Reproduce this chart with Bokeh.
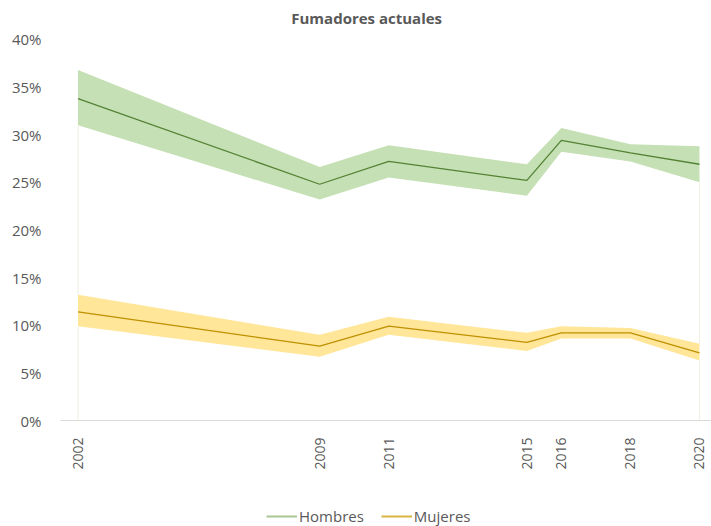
from bokeh.plotting import figure
from bokeh.layouts import column
from bokeh.models import FixedTicker, Legend, LegendItem, Label, Range1d
from bokeh.embed import file_html
from bokeh.resources import INLINE

title_text = "Fumadores actuales"
years = [2002, 2009, 2011, 2015, 2016, 2018, 2020]
hombres = [33.8, 24.8, 27.2, 25.2, 29.4, 28.1, 26.9]
hombres_lo = [31.0, 23.2, 25.5, 23.6, 28.2, 27.2, 25.0]
hombres_hi = [36.8, 26.6, 28.9, 26.9, 30.7, 29.0, 28.8]
mujeres = [11.4, 7.8, 9.9, 8.2, 9.2, 9.2, 7.1]
mujeres_lo = [9.9, 6.7, 9.0, 7.3, 8.6, 8.6, 6.3]
mujeres_hi = [13.2, 9.0, 10.9, 9.2, 9.9, 9.7, 8.05]
y_ticks = [0, 5, 10, 15, 20, 25, 30, 35, 40]
y_tick_labels = ["0%", "5%", "10%", "15%", "20%", "25%", "30%", "35%", "40%"]

FONT = "Open Sans"
TXT = "#595959"

p = figure(width=711, height=486, output_backend="svg", toolbar_location=None,
           x_range=Range1d(2001.493, 2020.348), y_range=Range1d(0, 44.09),
           min_border_left=60, min_border_right=0, min_border_top=0,
           min_border_bottom=66)
p.outline_line_color = None
p.xgrid.visible = False
p.ygrid.visible = False

# bands
p.varea(x=years, y1=hombres_lo, y2=hombres_hi, fill_color="#C5E0B4")
p.varea(x=years, y1=mujeres_lo, y2=mujeres_hi, fill_color="#FFE699")
# faint edge lines
p.segment(x0=[years[0], years[-1]], y0=[0, 0], x1=[years[0], years[-1]],
          y1=[mujeres_lo[0], mujeres_lo[-1]],
          line_color="#EFEFE2", line_width=1)
p.segment(x0=[years[0], years[-1]], y0=[mujeres_hi[0], mujeres_hi[-1]],
          x1=[years[0], years[-1]], y1=[hombres_lo[0], hombres_lo[-1]],
          line_color="#EFEFE2", line_width=1)
# lines
p.line(years, hombres, line_color="#548235", line_width=1.3)
p.line(years, mujeres, line_color="#BF9000", line_width=1.3)

# axes
p.xaxis.ticker = FixedTicker(ticks=years)
p.xaxis.major_label_orientation = 1.5708
p.xaxis.axis_line_color = "#D9D9D9"
p.xaxis.major_tick_line_color = None
p.xaxis.minor_tick_line_color = None
p.xaxis.major_label_text_font = FONT
p.xaxis.major_label_text_font_size = "14px"
p.xaxis.major_label_text_color = TXT
p.xaxis.major_label_standoff = 11

p.yaxis.ticker = FixedTicker(ticks=y_ticks)
p.yaxis.major_label_overrides = {t: l for t, l in zip(y_ticks, y_tick_labels)}
p.yaxis.axis_line_color = None
p.yaxis.major_tick_line_color = None
p.yaxis.minor_tick_line_color = None
p.yaxis.major_label_text_font = FONT
p.yaxis.major_label_text_font_size = "15px"
p.yaxis.major_label_text_color = TXT
p.yaxis.major_label_standoff = 13

p.add_layout(Label(x=2010.36, y=42.26, text=title_text, text_align="center",
                   text_baseline="middle", text_font=FONT,
                   text_font_size="15px", text_font_style="bold",
                   text_color=TXT))

# legend figure
q = figure(width=711, height=40, output_backend="svg", toolbar_location=None,
           x_range=Range1d(0, 1), y_range=Range1d(0, 1),
           min_border_left=0, min_border_right=0, min_border_top=0,
           min_border_bottom=0)
q.axis.visible = False
q.grid.visible = False
q.outline_line_color = None
nan = float("nan")
lh = q.line([0, 1], [nan, nan], line_color="#A9C78E", line_width=2)
lm = q.line([0, 1], [nan, nan], line_color="#D9B446", line_width=2)
legend = Legend(items=[LegendItem(label="Hombres", renderers=[lh]),
                       LegendItem(label="Mujeres", renderers=[lm])],
                orientation="horizontal", location=(206, 0),
                label_text_font=FONT, label_text_font_size="15px",
                label_text_color=TXT, glyph_width=31, glyph_height=10,
                label_standoff=2, spacing=17, padding=0, margin=0,
                border_line_color=None, background_fill_alpha=0)
q.add_layout(legend)

open("out.html", "w").write(file_html(column(p, q, spacing=0), INLINE))
